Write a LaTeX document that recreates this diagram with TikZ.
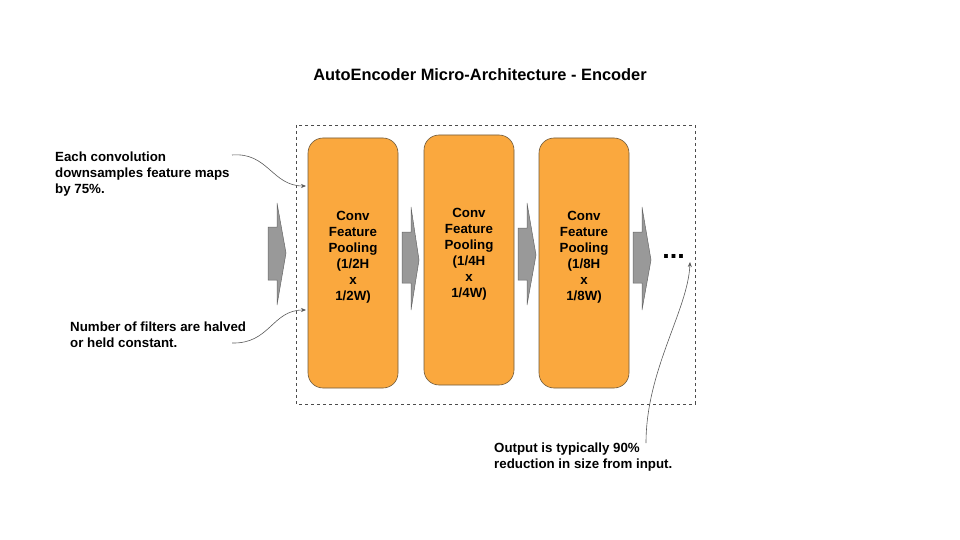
\documentclass[tikz,border=0pt]{standalone}
\usepackage{fontspec}
\setmainfont{Liberation Sans}
\usetikzlibrary{arrows.meta}
\definecolor{boxfill}{RGB}{250,168,62}
\definecolor{boxline}{RGB}{110,90,60}
\definecolor{arrfill}{RGB}{153,153,153}
\definecolor{arrline}{RGB}{102,102,102}
\definecolor{curveline}{RGB}{90,90,90}
\tikzset{
  stage/.style={draw=boxline, line width=0.6pt, fill=boxfill, rounded corners=15pt,
    minimum width=90pt, minimum height=250pt, inner sep=0pt},
  stagetext/.style={align=center, font=\bfseries\fontsize{13.3}{16}\selectfont, inner sep=0pt},
  note/.style={align=left, font=\bfseries\fontsize{13.3}{16}\selectfont, inner sep=0pt, anchor=north west},
  fat/.style={fill=arrfill, draw=arrline, line width=0.5pt, line join=miter},
  pointer/.style={draw=curveline, line width=0.6pt, -{Stealth[length=5pt,width=4pt]}},
}
\begin{document}
\begin{tikzpicture}[x=1pt,y=-1pt]
\useasboundingbox (0,0) rectangle (960,540);
\node[font=\bfseries\fontsize{16.4}{19}\selectfont] (title) at (480,75) {AutoEncoder Micro-Architecture - Encoder};
\draw[dashed, draw=black!70, line width=0.6pt] (296,125) rectangle (695,404);
\node[stage] (b1) at (353,263) {};
\node[stage] (b2) at (469,260) {};
\node[stage] (b3) at (584,263) {};
\node[stagetext] (t1) at (353,257) {Conv\\Feature\\Pooling\\(1/2H\\x\\1/2W)};
\node[stagetext] (t2) at (469,254) {Conv\\Feature\\Pooling\\(1/4H\\x\\1/4W)};
\node[stagetext] (t3) at (584,257) {Conv\\Feature\\Pooling\\(1/8H\\x\\1/8W)};
% fat arrows
\draw[fat] (268,227) -- (277,227) -- (277,203) -- (286,253) -- (277,305) -- (277,280) -- (268,280) -- cycle;
\draw[fat] (402,232) -- (411,232) -- (411,207) -- (419,260) -- (411,310) -- (411,283) -- (402,283) -- cycle;
\draw[fat] (518,228) -- (527,228) -- (527,203) -- (536,255) -- (527,305) -- (527,280) -- (518,280) -- cycle;
\draw[fat] (633,232) -- (642,232) -- (642,207) -- (651,260) -- (642,310) -- (642,283) -- (633,283) -- cycle;
\node[font=\bfseries\fontsize{27}{27}\selectfont, inner sep=0pt, anchor=base] (dots) at (673.5,258) {...};
% notes
\node[note] (n1) at (55,152) {Each convolution\\downsamples feature maps\\by 75\%.};
\node[note] (n2) at (70,322) {Number of filters are halved\\or held constant.};
\node[note] (n3) at (494,443) {Output is typically 90\%\\reduction in size from input.};
\coordinate (s1) at (232,155);
\coordinate (e1) at (306,186);
\coordinate (s2) at (232,343);
\coordinate (e2) at (306,310);
\coordinate (s3) at (646,443);
\coordinate (e3) at (690,262);
\draw[pointer] (s1) .. controls (268,152) and (272,186) .. (e1);
\draw[pointer] (s2) .. controls (270,344) and (272,310) .. (e2);
\draw[pointer] (s3) .. controls (646,370) and (688,310) .. (e3);
\end{tikzpicture}
\end{document}
